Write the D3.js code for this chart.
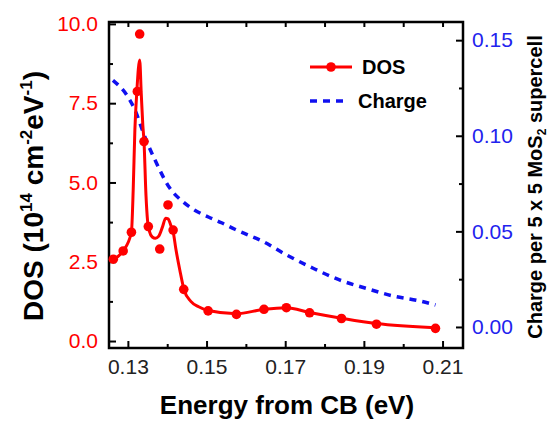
<!DOCTYPE html>
<html>
<head>
<meta charset="utf-8">
<script src="https://cdn.jsdelivr.net/npm/d3@7"></script>
<style>
  body { margin: 0; background: #fff; }
  svg { font-family: "Liberation Sans", Arial, sans-serif; }
</style>
</head>
<body>
<div id="chart"></div>
<script>
// DOS markers (computed points)
const dosEnergy = [0.1263, 0.1288, 0.1309, 0.1324, 0.1330, 0.1341, 0.1352, 0.1381, 0.1402, 0.1415,
    0.1442, 0.1504, 0.1576, 0.1646, 0.1703, 0.1762, 0.1843, 0.1932, 0.2082];
const dosValue = [2.58, 2.84, 3.43, 7.87, 9.68, 6.29, 3.61, 2.90, 4.29, 3.50,
    1.63, 0.95, 0.84, 1.00, 1.05, 0.89, 0.71, 0.53, 0.40];

// DOS fitted curve
const fitEnergy = [0.1263, 0.1288, 0.1309, 0.13135, 0.13178, 0.13229, 0.1330, 0.1334, 0.1338, 0.1341,
    0.1346, 0.1350, 0.1355, 0.1362, 0.1370, 0.1378, 0.1388, 0.1396, 0.1402, 0.1410,
    0.1415, 0.1422, 0.1432, 0.1443, 0.1460, 0.1480, 0.1504, 0.1576, 0.1646, 0.1703,
    0.1762, 0.1843, 0.1932, 0.2082];
const fitValue = [2.58, 2.84, 3.43, 4.76, 6.66, 7.9, 8.86, 7.8, 6.8, 6.29,
    4.6, 3.8, 3.45, 3.28, 3.24, 3.3, 3.6, 3.87, 3.85, 3.62,
    3.45, 2.9, 2.24, 1.61, 1.25, 1.08, 0.96, 0.86, 1.0, 1.05,
    0.9, 0.72, 0.55, 0.42];

// charge per supercell
const chargeEnergy = [0.1262, 0.1297, 0.1318, 0.1343, 0.1369, 0.1407, 0.1440, 0.1470, 0.1506, 0.1538,
    0.1572, 0.1606, 0.1640, 0.1703, 0.1771, 0.1838, 0.1906, 0.1974, 0.2042, 0.2082];
const chargeValue = [0.129, 0.1213, 0.1135, 0.0995, 0.0873, 0.0725, 0.0655, 0.0611, 0.0574, 0.0545,
    0.0511, 0.0481, 0.0451, 0.0377, 0.0307, 0.0246, 0.0202, 0.0162, 0.0136, 0.0115];

const xTicks = [0.13, 0.15, 0.17, 0.19, 0.21];
const xMinor = [0.14, 0.16, 0.18, 0.20];
const dosTicks = [0, 2.5, 5, 7.5, 10];
const dosMinor = [1.25, 3.75, 6.25, 8.75];
const chargeTicks = [0, 0.05, 0.10, 0.15];
const chargeMinor = [0.025, 0.075, 0.125];

const width = 551, height = 421;
const margin = {top: 22, right: 88, bottom: 73, left: 109};
const innerW = width - margin.left - margin.right,
    innerH = height - margin.top - margin.bottom;

const svg = d3.select('#chart')
    .append('svg')
    .attr('width', width)
    .attr('height', height);

const g = svg.append('g')
    .attr('transform', `translate(${margin.left},${margin.top})`);

const x = d3.scaleLinear().domain([0.1252, 0.2152]).range([0, innerW]);
const yL = d3.scaleLinear().domain([-0.22, 10.06]).range([innerH, 0]);
const yR = d3.scaleLinear().domain([-0.011, 0.1595]).range([innerH, 0]);

// axes with inward ticks
function styleAxis(sel, color) {
    sel.select('.domain').remove();
    sel.selectAll('line').attr('stroke', '#000').attr('stroke-width', 2);
    sel.selectAll('text').attr('fill', color).style('font-size', '21px');
}

g.append('g')
    .attr('transform', `translate(0,${innerH})`)
    .call(d3.axisBottom(x).tickValues(xTicks).tickSize(-7).tickPadding(11).tickFormat(d3.format('.2f')))
    .call(s => styleAxis(s, '#222'));
g.append('g')
    .attr('transform', `translate(0,${innerH})`)
    .call(d3.axisBottom(x).tickValues(xMinor).tickSize(-4).tickFormat(''))
    .call(s => styleAxis(s, '#222'));
g.append('g')
    .call(d3.axisTop(x).tickValues(xTicks.concat(xMinor)).tickSize(-5).tickFormat(''))
    .call(s => styleAxis(s, '#222'));

g.append('g')
    .call(d3.axisLeft(yL).tickValues(dosTicks).tickSize(-7).tickPadding(11).tickFormat(d3.format('.1f')))
    .call(s => styleAxis(s, '#f00'));
g.append('g')
    .call(d3.axisLeft(yL).tickValues(dosMinor).tickSize(-4).tickFormat(''))
    .call(s => styleAxis(s, '#f00'));

g.append('g')
    .attr('transform', `translate(${innerW},0)`)
    .call(d3.axisRight(yR).tickValues(chargeTicks).tickSize(-7).tickPadding(9).tickFormat(d3.format('.2f')))
    .call(s => styleAxis(s, '#2222ee'));
g.append('g')
    .attr('transform', `translate(${innerW},0)`)
    .call(d3.axisRight(yR).tickValues(chargeMinor).tickSize(-4).tickFormat(''))
    .call(s => styleAxis(s, '#2222ee'));

// frame
g.append('rect')
    .attr('width', innerW)
    .attr('height', innerH)
    .attr('fill', 'none')
    .attr('stroke', '#000')
    .attr('stroke-width', 2.5);

// charge dashed line
const chargeLine = d3.line()
    .x((d, i) => x(chargeEnergy[i]))
    .y(d => yR(d))
    .curve(d3.curveMonotoneX);

g.append('path')
    .datum(chargeValue)
    .attr('d', chargeLine)
    .attr('fill', 'none')
    .attr('stroke', '#1010f0')
    .attr('stroke-width', 3.5)
    .attr('stroke-dasharray', '7,6');

// DOS fit
const fitLine = d3.line()
    .x((d, i) => x(fitEnergy[i]))
    .y(d => yL(d))
    .curve(d3.curveMonotoneX);

g.append('path')
    .datum(fitValue)
    .attr('d', fitLine)
    .attr('fill', 'none')
    .attr('stroke', '#ff0000')
    .attr('stroke-width', 3)
    .attr('stroke-linejoin', 'round');

g.selectAll('circle.dos')
    .data(dosValue)
    .enter()
    .append('circle')
    .attr('class', 'dos')
    .attr('cx', (d, i) => x(dosEnergy[i]))
    .attr('cy', d => yL(d))
    .attr('r', 4.8)
    .attr('fill', '#ff0000');

// legend
const leg = g.append('g').attr('transform', 'translate(201,45)');
leg.append('line')
    .attr('x1', 0).attr('x2', 42).attr('y1', 0).attr('y2', 0)
    .attr('stroke', '#ff0000').attr('stroke-width', 3);
leg.append('circle').attr('cx', 21).attr('cy', 0).attr('r', 4.8).attr('fill', '#ff0000');
leg.append('text')
    .text('DOS')
    .attr('x', 52).attr('y', 7)
    .style('font-size', '20px').style('font-weight', 'bold');
leg.append('line')
    .attr('x1', 0).attr('x2', 36).attr('y1', 34).attr('y2', 34)
    .attr('stroke', '#1010f0').attr('stroke-width', 3.5)
    .attr('stroke-dasharray', '7,6');
leg.append('text')
    .text('Charge')
    .attr('x', 48).attr('y', 41)
    .style('font-size', '20px').style('font-weight', 'bold');

// axis titles
svg.append('text')
    .text('Energy from CB (eV)')
    .attr('x', 287)
    .attr('y', 414)
    .attr('text-anchor', 'middle')
    .style('font-size', '26px').style('font-weight', 'bold');

const yt = svg.append('text')
    .attr('transform', 'translate(43,196) rotate(-90)')
    .attr('text-anchor', 'middle')
    .style('font-size', '28px').style('font-weight', 'bold');
yt.append('tspan').text('DOS (10');
yt.append('tspan').text('14').attr('dy', -11).style('font-size', '17px');
yt.append('tspan').text(' cm').attr('dy', 11);
yt.append('tspan').text('-2').attr('dy', -11).style('font-size', '17px');
yt.append('tspan').text('eV').attr('dy', 11);
yt.append('tspan').text('-1').attr('dy', -11).style('font-size', '17px');
yt.append('tspan').text(')').attr('dy', 11);

const rt = svg.append('text')
    .attr('transform', 'translate(542,187) rotate(-90)')
    .attr('text-anchor', 'middle')
    .style('font-size', '20px').style('font-weight', 'bold');
rt.append('tspan').text('Charge per 5 x 5 MoS');
rt.append('tspan').text('2').attr('dy', 4).style('font-size', '12px');
rt.append('tspan').text(' supercell').attr('dy', -4);
</script>
</body>
</html>
